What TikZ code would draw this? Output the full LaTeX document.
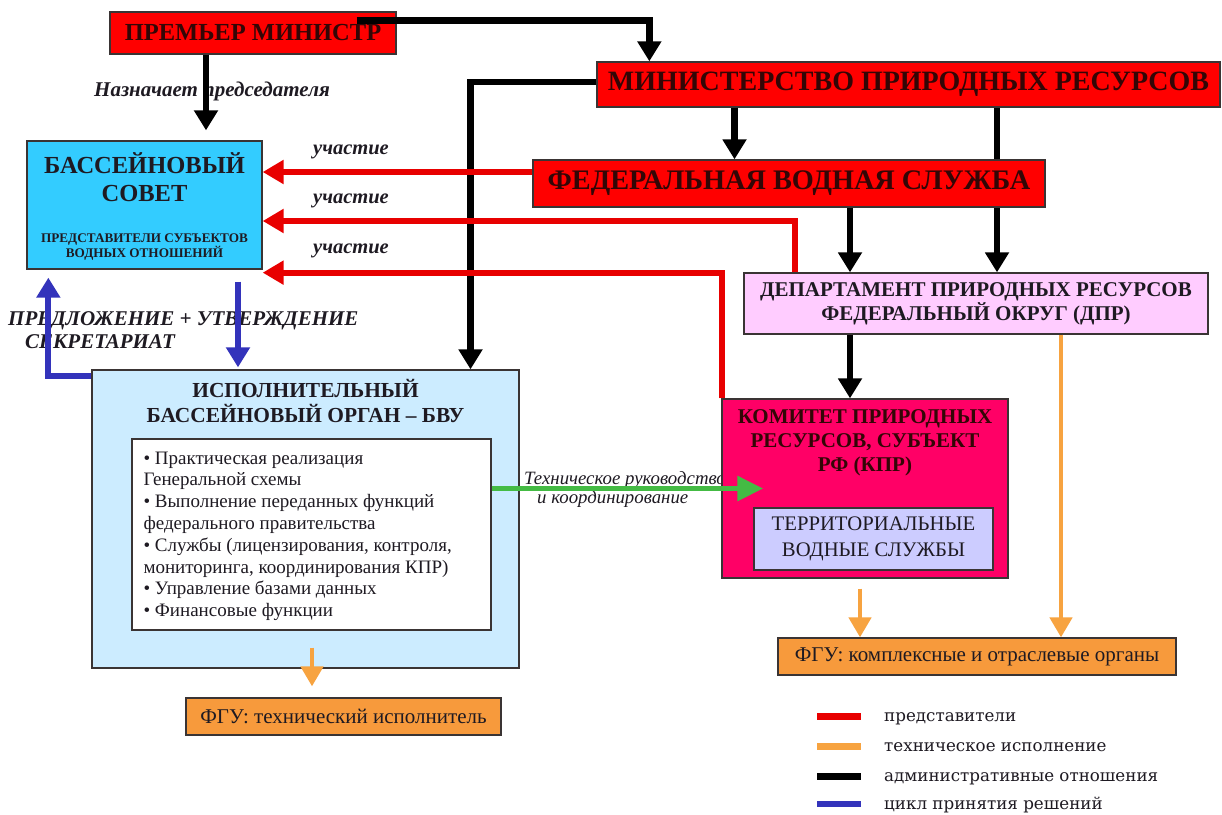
\documentclass[tikz,border=0pt]{standalone}
\usepackage{fontspec}
\setmainfont{Liberation Serif}
\newfontfamily\legendfont{DejaVu Serif}
\usetikzlibrary{arrows.meta,calc,backgrounds}

\definecolor{topred}{HTML}{FF0000}
\definecolor{kprfill}{HTML}{FF0066}
\definecolor{bsfill}{HTML}{33CCFF}
\definecolor{ibofill}{HTML}{CCECFF}
\definecolor{dprfill}{HTML}{FFCCFF}
\definecolor{tvsfill}{HTML}{CCCCFF}
\definecolor{fgufill}{HTML}{F79A3C}
\definecolor{edge}{HTML}{3A3434}
\definecolor{inkred}{HTML}{330606}
\definecolor{ink}{HTML}{1E1A22}
\definecolor{repcol}{HTML}{E80000}
\definecolor{techcol}{HTML}{F7A340}
\definecolor{cyclecol}{HTML}{3333BB}
\definecolor{guidecol}{HTML}{44BB44}

\begin{document}
\begin{tikzpicture}[x=1pt,y=-1pt,
  box/.style={draw=edge, line width=1.3pt, inner sep=0pt, align=center},
  txt/.style={inner sep=0pt, align=center, text=ink},
  admin/.style={draw=black, line width=6.5pt, -{Triangle[length=20pt,width=23pt]}},
  rep/.style={draw=repcol, line width=6pt, -{Triangle[length=21pt,width=23pt]}},
  tech/.style={draw=techcol, line width=4.5pt, -{Triangle[length=20pt,width=22pt]}},
  cyc/.style={draw=cyclecol, line width=6pt, -{Triangle[length=20pt,width=23pt]}},
  guide/.style={draw=guidecol, line width=5.5pt, -{Triangle[length=26pt,width=24pt]}},
  lbl/.style={inner sep=0pt, text=ink, font=\fontsize{20.5}{22}\selectfont\bfseries\itshape},
  legtxt/.style={inner sep=0pt, text=ink, anchor=base west, font=\legendfont\fontsize{16.7}{18}\selectfont},
  swatch/.style={line width=6.5pt},
]
\useasboundingbox (0,0) rectangle (1222,814);

% ---------- labels lying under the connectors ----------
\node[lbl, font=\fontsize{21}{22}\selectfont\bfseries\itshape] (appoint) at (212,91) {Назначает председателя};
\node[lbl] (part1) at (351,152) {участие};
\node[lbl] (part2) at (351,201) {участие};
\node[lbl] (part3) at (351,251) {участие};
\node[lbl, align=left, anchor=west, font=\fontsize{21}{23}\selectfont\bfseries\itshape]
  (proposal) at (8,330.5) {ПРЕДЛОЖЕНИЕ + УТВЕРЖДЕНИЕ\\\hspace*{17pt}СЕКРЕТАРИАТ};
\node[txt, align=left, anchor=west, font=\fontsize{18.8}{19}\selectfont\itshape]
  (guidelbl) at (524,489.5) {Техническое руководство\\\hspace*{13pt}и координирование};

% ---------- boxes ----------
\node[box, fill=topred, text=inkred, minimum width=286pt, minimum height=42pt,
  font=\fontsize{24.5}{28}\selectfont\bfseries] (pm) at (253,33) {ПРЕМЬЕР МИНИСТР};
\node[box, fill=topred, text=inkred, minimum width=623pt, minimum height=45pt,
  font=\fontsize{28}{30}\selectfont\bfseries] (mpr) at (908.5,84.5) {МИНИСТЕРСТВО ПРИРОДНЫХ РЕСУРСОВ};
\node[box, fill=topred, text=inkred, minimum width=512pt, minimum height=47pt,
  font=\fontsize{28.3}{30}\selectfont\bfseries] (fvs) at (789,183.5) {ФЕДЕРАЛЬНАЯ ВОДНАЯ СЛУЖБА};
\node[box, fill=dprfill, text=ink, minimum width=464pt, minimum height=61pt,
  font=\fontsize{21}{24}\selectfont\bfseries] (dpr) at (976,303.5)
  {ДЕПАРТАМЕНТ ПРИРОДНЫХ РЕСУРСОВ\\ФЕДЕРАЛЬНЫЙ ОКРУГ (ДПР)};

\node[box, fill=kprfill, minimum width=286pt, minimum height=179pt] (kpr) at (865,488.5) {};
\node[txt, text=inkred, font=\fontsize{21}{24}\selectfont\bfseries] (kprtitle) at (865,443)
  {КОМИТЕТ ПРИРОДНЫХ\\РЕСУРСОВ, СУБЪЕКТ\\РФ (КПР)};
\node[box, fill=tvsfill, text=ink, minimum width=239pt, minimum height=62pt,
  font=\fontsize{20.7}{26}\selectfont] (tvs) at (873.5,539) {ТЕРРИТОРИАЛЬНЫЕ\\ВОДНЫЕ СЛУЖБЫ};
\node[box, fill=fgufill, text=ink, minimum width=398pt, minimum height=37pt,
  font=\fontsize{21}{22}\selectfont] (fgu2) at (977,656.5) {ФГУ: комплексные и отраслевые органы};

\node[box, fill=bsfill, minimum width=235pt, minimum height=128pt] (bs) at (144.5,205) {};
\node[txt, font=\fontsize{24.5}{28}\selectfont\bfseries] (bstitle) at (144.5,177) {БАССЕЙНОВЫЙ\\СОВЕТ};
\node[txt, font=\fontsize{13.2}{15}\selectfont\bfseries] (bssub) at (144.5,247.5)
  {ПРЕДСТАВИТЕЛИ СУБЪЕКТОВ\\ВОДНЫХ ОТНОШЕНИЙ};

\node[box, fill=ibofill, minimum width=427pt, minimum height=298pt] (ibo) at (305.5,519) {};
\node[txt, font=\fontsize{21.4}{25}\selectfont\bfseries] (ibotitle) at (305.5,400.5)
  {ИСПОЛНИТЕЛЬНЫЙ\\БАССЕЙНОВЫЙ ОРГАН – БВУ};
\node[box, fill=white, minimum width=359pt, minimum height=191pt] (lst) at (311.5,534.5) {};
\node[txt, align=left, anchor=north west, font=\fontsize{19}{21.8}\selectfont] (lsttext)
  at ($(lst.north west)+(12,13)$)
  {• Практическая реализация\\
   Генеральной схемы\\
   • Выполнение переданных функций\\
   федерального правительства\\
   • Службы (лицензирования, контроля,\\
   мониторинга, координирования КПР)\\
   • Управление базами данных\\
   • Финансовые функции};
\node[box, fill=fgufill, text=ink, minimum width=315pt, minimum height=37pt,
  font=\fontsize{21}{22}\selectfont] (fgu1) at (343.5,716.5) {ФГУ: технический исполнитель};

% ---------- the line hidden behind the federal service box ----------
\begin{scope}[on background layer]
  \fill[white] (0,0) rectangle (1222,814);
  \draw[admin] ($(mpr.south)+(88.5,0)$) -- ($(mpr.south |- dpr.north)+(88.5,0)$);
\end{scope}

% ---------- administrative relations ----------
\draw[admin] ($(pm.north east)+(-40,9)$) -| ($(mpr.north west)+(53,0)$);
\draw[admin] ($(pm.south)+(-47,0)$) -- ($(pm.south |- bs.north)+(-47,-10)$);
\draw[admin] ($(mpr.west)+(0,-2.5)$) -| ($(ibo.north)+(165,0)$);
\draw[admin] ($(mpr.south)+(-174,0)$) -- ($(mpr.south |- fvs.north)+(-174,0)$);
\draw[admin] ($(fvs.south)+(61,0)$) -- ($(fvs.south |- dpr.north)+(61,0)$);
\draw[admin] ($(kpr.north |- dpr.south)+(-15,0)$) -- ($(kpr.north)+(-15,0)$);

% ---------- representatives ----------
\draw[rep] ($(fvs.west)+(0,-11.5)$) -- ($(bs.east |- fvs.west)+(0,-11.5)$);
\draw[rep] ($(dpr.north)+(-181,0)$) |- ($(bs.east)+(0,16)$);
\draw[rep] ($(kpr.north west)+(1,0)$) |- ($(bs.south east)+(0,3)$);

% ---------- decision cycle ----------
\draw[cyc] ($(ibo.north west)+(0,7)$) -| ($(bs.south west)+(22,8)$);
\draw[cyc] ($(bs.south)+(93.5,12)$) -- ($(bs.south |- ibo.north)+(93.5,-2)$);

% ---------- technical execution ----------
\draw[tech] ($(dpr.south)+(85,0)$) -- ($(dpr.south |- fgu2.north)+(85,0)$);
\draw[tech] ($(kpr.south)+(-5,10)$) -- ($(kpr.south |- fgu2.north)+(-5,0)$);
\draw[tech] ($(ibo.south)+(6.5,-21)$) -- ($(ibo.south |- fgu1.north)+(6.5,-11)$);

% ---------- technical guidance ----------
\draw[guide] ($(lst.east)+(0,-46)$) -- ($(kpr.west |- lst.east)+(42,-46)$);

% ---------- legend ----------
\node[legtxt] (legrep) at (884,721.5) {представители};
\node[legtxt] (legtech) at (884,751.5) {техническое исполнение};
\node[legtxt] (legadmin) at (884,781.5) {административные отношения};
\node[legtxt] (legcyc) at (884,809) {цикл принятия решений};
\draw[swatch, repcol] ($(legrep.base west)+(-67,-5)$) -- ($(legrep.base west)+(-23,-5)$);
\draw[swatch, techcol] ($(legtech.base west)+(-67,-5)$) -- ($(legtech.base west)+(-23,-5)$);
\draw[swatch, black] ($(legadmin.base west)+(-67,-5)$) -- ($(legadmin.base west)+(-23,-5)$);
\draw[swatch, cyclecol] ($(legcyc.base west)+(-67,-5)$) -- ($(legcyc.base west)+(-23,-5)$);
\end{tikzpicture}
\end{document}
